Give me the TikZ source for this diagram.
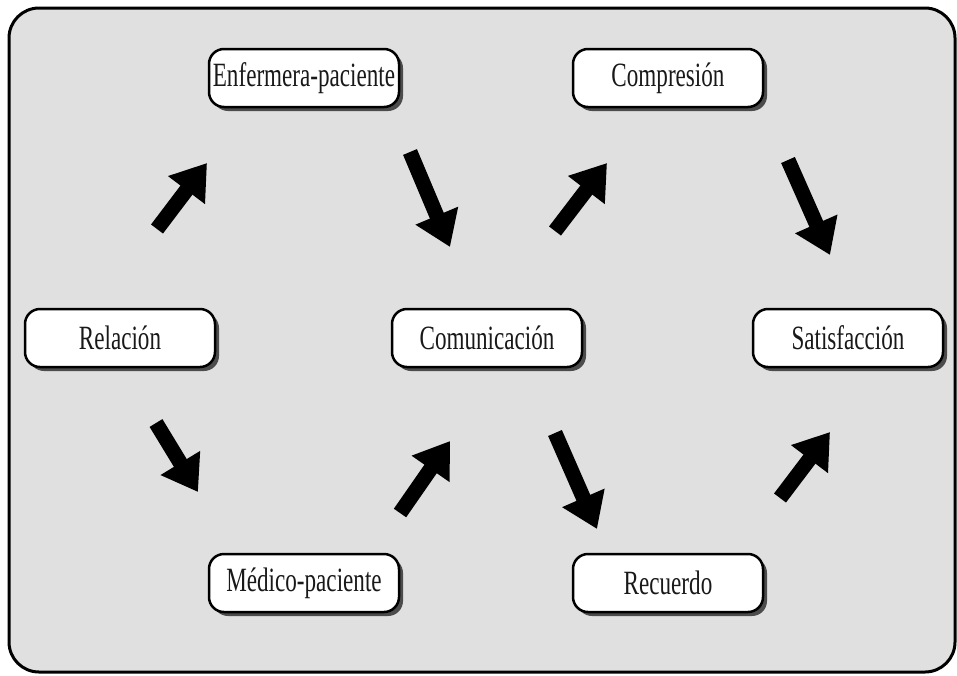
\documentclass[tikz,border=0pt]{standalone}
\usepackage{fontspec}
\usepackage{tikz}
\usetikzlibrary{arrows.meta, shadows}
\newfontfamily\boxfont[FakeStretch=0.68]{Liberation Serif}
\definecolor{panel}{RGB}{224,224,224}
\definecolor{ink}{RGB}{25,25,25}

\begin{document}
\begin{tikzpicture}[x=1pt, y=-1pt,
  box/.style={draw=black, line width=2.5pt, fill=white, rounded corners=15pt,
    minimum width=190pt, minimum height=58pt, inner sep=0pt,
    font=\boxfont\fontsize{34}{40}\selectfont, text=ink,
    drop shadow={shadow xshift=4pt, shadow yshift=-4pt, fill=black!80, opacity=0.85}},
  bigarrow/.style={line width=15pt, -{Triangle[width=44pt, length=34pt]}}]

  % ---------- page and panel ----------
  \useasboundingbox (0,0) rectangle (957,675);
  \fill[white] (0,0) rectangle (957,675);
  \draw[line width=3pt, fill=panel, rounded corners=30pt] (9,8) rectangle (955,672);

  % ---------- boxes ----------
  \node[box] (enf)  at (304,78)  {Enfermera-paciente};
  \node[box] (comp) at (668,78)  {Compresión};
  \node[box] (rel)  at (120,338) {Relación};
  \node[box] (com)  at (487,338) {Comunicación};
  \node[box] (sat)  at (848,338) {Satisfacción};
  \node[box] (med)  at (304,583) {Médico-paciente};
  \node[box] (rec)  at (668,583) {Recuerdo};

  % ---------- arrow ends (tail t, head h) ----------
  \coordinate (t1) at (157,229); \coordinate (h1) at (207,163); % rel -> enf
  \coordinate (t2) at (410,152); \coordinate (h2) at (450,247); % enf -> com
  \coordinate (t3) at (555,231); \coordinate (h3) at (607,163); % com -> comp
  \coordinate (t4) at (788,160); \coordinate (h4) at (830,255); % comp -> sat
  \coordinate (t5) at (156,423); \coordinate (h5) at (198,492); % rel -> med
  \coordinate (t6) at (400,513); \coordinate (h6) at (450,441); % med -> com
  \coordinate (t7) at (555,433); \coordinate (h7) at (597,529); % com -> rec
  \coordinate (t8) at (780,498); \coordinate (h8) at (830,432); % rec -> sat

  % ---------- arrows ----------
  \foreach \i in {1,...,8}{
    \draw[bigarrow] (t\i) -- (h\i);
  }

\end{tikzpicture}
\end{document}
